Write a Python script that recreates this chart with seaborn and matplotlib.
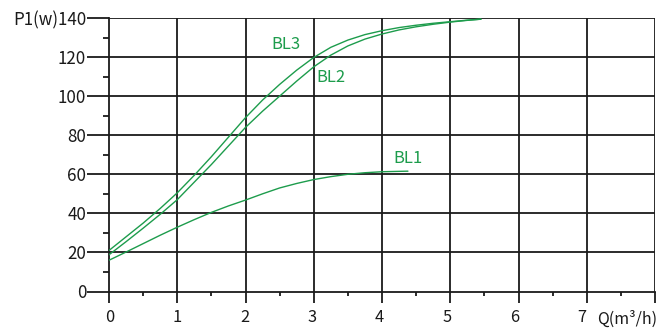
import matplotlib
matplotlib.use("Agg")
import matplotlib.pyplot as plt
import seaborn as sns
import pandas as pd
from matplotlib.ticker import MultipleLocator
from matplotlib.transforms import ScaledTranslation

# ---- data ----
q_bl3 = [0, 0.25, 0.5, 0.75, 1, 1.25, 1.5, 1.75, 2, 2.25, 2.5, 2.75, 3,
         3.25, 3.5, 3.75, 4, 4.25, 4.5, 4.75, 5, 5.25, 5.45]
p_bl3 = [21, 28, 35, 42.5, 50.5, 59.5, 69, 79, 89, 98, 106, 113.3, 119.8,
         125, 128.7, 131.5, 133.5, 135.1, 136.3, 137.3, 138.1, 138.9, 139.4]
q_bl2 = [0, 0.25, 0.5, 0.75, 1, 1.25, 1.5, 1.75, 2, 2.25, 2.5, 2.75, 3,
         3.25, 3.5, 3.75, 4, 4.25, 4.5, 4.75, 5, 5.25, 5.45]
p_bl2 = [18.8, 25.5, 32.4, 39.5, 47, 56, 65, 74.5, 84, 92.3, 100, 107.7, 115,
         121, 125.7, 129.2, 131.8, 133.9, 135.5, 136.8, 137.9, 138.8, 139.4]
q_bl1 = [0, 0.25, 0.5, 0.75, 1, 1.25, 1.5, 1.75, 2, 2.25, 2.5, 2.75, 3,
         3.25, 3.5, 3.75, 4, 4.25, 4.38]
p_bl1 = [16, 20.2, 24.5, 28.8, 32.9, 36.8, 40.5, 43.8, 46.8, 50, 53, 55.3, 57.3,
         58.8, 60, 60.8, 61.3, 61.5, 61.6]
series_names = ["BL3", "BL2", "BL1"]
label_pos = {"BL3": (2.59, 126.6), "BL2": (3.25, 109.7), "BL1": (4.38, 68)}
x_ticks = [0, 1, 2, 3, 4, 5, 6, 7]
y_ticks = [0, 20, 40, 60, 80, 100, 120, 140]

df = pd.concat([
    pd.DataFrame({"Q": q_bl3, "P": p_bl3, "curve": "BL3"}),
    pd.DataFrame({"Q": q_bl2, "P": p_bl2, "curve": "BL2"}),
    pd.DataFrame({"Q": q_bl1, "P": p_bl1, "curve": "BL1"}),
])

sns.set_theme(style="white")
plt.rcParams["font.family"] = ["Noto Sans CJK SC", "DejaVu Sans"]

green = "#1d9c4c"
ink = "#1a1a1a"
PX = 0.72  # points per pixel at 100 dpi

fig = plt.figure(figsize=(6.58, 3.29), dpi=100)
ax = fig.add_axes([109 / 658, 37.5 / 329, 546 / 658, 273.5 / 329])

sns.lineplot(data=df, x="Q", y="P", hue="curve", units="curve", estimator=None,
             palette={n: green for n in series_names}, linewidth=1.0,
             legend=False, ax=ax, sort=False, zorder=3)

ax.set_xlim(0, 8)
ax.set_ylim(0, 140)

# grid lines
for yv in y_ticks[1:]:
    ax.axhline(yv, color=ink, lw=1.3, zorder=1)
for xv in range(1, 9):
    ax.axvline(xv, color=ink, lw=1.3, zorder=1)

for s in ["top", "right"]:
    ax.spines[s].set_visible(False)
for s in ["left", "bottom"]:
    ax.spines[s].set_color(ink)
    ax.spines[s].set_linewidth(1.3)

ax.set_xticks(list(range(0, 9)))
ax.set_xticklabels([str(v) for v in x_ticks] + [""])
ax.set_yticks(y_ticks)
ax.set_yticklabels([str(v) for v in y_ticks[:-1]] + ["P1(w)140"])
ax.xaxis.set_minor_locator(MultipleLocator(0.5))
ax.yaxis.set_minor_locator(MultipleLocator(10))

ax.tick_params(axis="y", which="major", direction="out", length=22 * PX, width=1.3,
               color=ink, labelsize=12.2, labelcolor=ink, pad=0.8 * PX, left=True)
ax.tick_params(axis="y", which="minor", direction="out", length=6 * PX, width=1.3,
               color=ink, left=True)
ax.tick_params(axis="x", which="major", direction="out", length=11 * PX, width=1.3,
               color=ink, labelsize=11.8, labelcolor=ink, pad=6 * PX, bottom=True)
ax.tick_params(axis="x", which="minor", direction="out", length=4 * PX, width=1.3,
               color=ink, bottom=True)

# slight leftward drift of the x tick labels, as in the reference
x_shift_px = [0.5, -0.5, -0.5, -1.5, -2.5, -3.3, -4.3, -5, 0]
for lab, dx in zip(ax.get_xticklabels(), x_shift_px):
    lab.set_transform(lab.get_transform() + ScaledTranslation(dx / 100, 0, fig.dpi_scale_trans))

ax.set_xlabel("")
ax.set_ylabel("")
ax.text(8.04, -14.0, "Q(m³/h)", ha="right", va="center", fontsize=11.5,
        color=ink, clip_on=False)

for name in series_names:
    x, y = label_pos[name]
    ax.text(x, y, name, ha="center", va="center", fontsize=12, color=green)

fig.savefig("out.png", dpi=100)
